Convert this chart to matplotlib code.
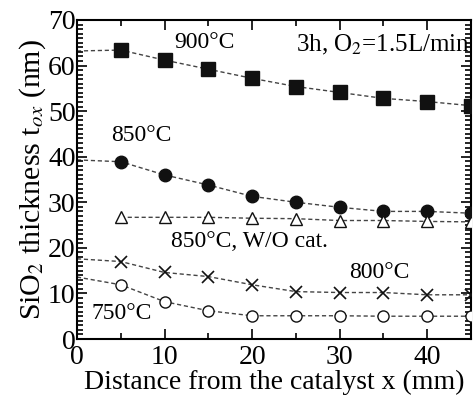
import matplotlib.pyplot as plt
import numpy as np
from matplotlib.ticker import MultipleLocator

plt.rcParams['font.family'] = ['Liberation Serif', 'DejaVu Serif']
plt.rcParams['mathtext.fontset'] = 'stix'

# distance from catalyst (mm)
x = [5, 10, 15, 20, 25, 30, 35, 40, 45]
# line start at x=0
x_line = [0] + x

t900 = [63.4, 61.2, 59.2, 57.2, 55.4, 54.1, 52.8, 52.1, 51.2]
t900_start = 63.2
t850 = [38.9, 36.0, 33.8, 31.3, 30.0, 28.9, 28.0, 28.0, 27.6]
t850_start = 39.3
t850_nocat = [26.7, 26.7, 26.7, 26.5, 26.4, 26.0, 26.0, 25.8, 25.7]
t800 = [17.0, 14.6, 13.7, 11.9, 10.4, 10.2, 10.2, 9.7, 9.7]
t800_start = 17.6
t750 = [11.9, 8.2, 6.2, 5.1, 5.1, 5.1, 5.0, 5.0, 5.0]
t750_start = 13.6

fig = plt.figure(figsize=(4.74, 4.03), dpi=100)
ax = fig.add_axes([0.1624, 0.1588, 0.8313, 0.7916])

ls = dict(color='#444444', linestyle=(0, (3, 2)), linewidth=1.0, zorder=1)

ax.plot(x_line, [t900_start] + t900, **ls)
ax.plot(x, t900, 's', color='#111111', markersize=10, zorder=3)

ax.plot(x_line, [t850_start] + t850, **ls)
ax.plot(x, t850, 'o', color='#111111', markersize=9, zorder=3)

ax.plot(x, t850_nocat, **ls)
ax.plot(x, t850_nocat, '^', color='#111111', markerfacecolor='white',
        markersize=9, markeredgewidth=1.0, zorder=3)

ax.plot(x_line, [t800_start] + t800, **ls)
ax.plot(x, t800, 'x', color='#111111', markersize=9, markeredgewidth=1.2, zorder=3)

ax.plot(x_line, [t750_start] + t750, **ls)
ax.plot(x, t750, 'o', color='#111111', markerfacecolor='white',
        markersize=8, markeredgewidth=1.0, zorder=3)

fs = 17
ax.text(14.5, 65, '900°C', fontsize=fs, ha='center', va='center')
ax.text(44.9, 64.5, '3h, O$_2$=1.5L/min', fontsize=18, ha='right', va='center')
ax.text(7.3, 44.6, '850°C', fontsize=fs, ha='center', va='center')
ax.text(10.7, 21.4, '850°C, W/O cat.', fontsize=fs, ha='left', va='center')
ax.text(34.5, 14.6, '800°C', fontsize=fs, ha='center', va='center')
ax.text(5.1, 5.7, '750°C', fontsize=fs, ha='center', va='center')

ax.set_xlim(0, 45)
ax.set_ylim(0, 70)
ax.xaxis.set_major_locator(MultipleLocator(10))
ax.xaxis.set_minor_locator(MultipleLocator(5))
ax.yaxis.set_major_locator(MultipleLocator(10))
ax.yaxis.set_minor_locator(MultipleLocator(1))
ax.tick_params(which='both', direction='in', top=True, right=True, width=1.2)
ax.tick_params(which='major', length=7, labelsize=20, pad=1)
ax.tick_params(axis='x', which='major', pad=4)
ax.tick_params(which='minor', length=4)
for s in ax.spines.values():
    s.set_linewidth(1.5)

ax.set_xlabel('Distance from the catalyst x (mm)', fontsize=20, labelpad=0)
ax.set_ylabel('SiO$_2$ thickness t$_{ox}$ (nm)', fontsize=21.5, labelpad=0)

fig.savefig('out.png', dpi=100)
